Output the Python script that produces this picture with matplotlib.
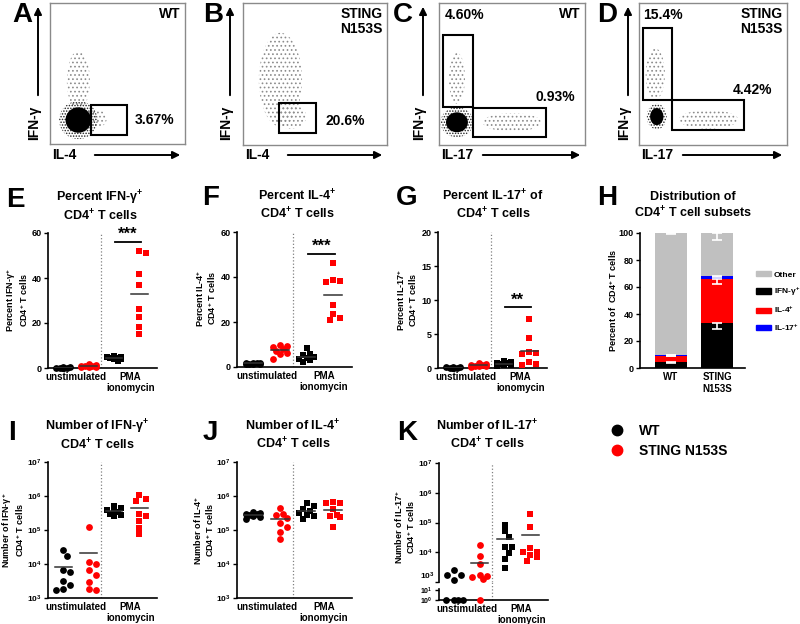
import numpy as np
import matplotlib
matplotlib.use('Agg')
import matplotlib.pyplot as plt
import matplotlib.transforms as mtransforms
from matplotlib.patches import Ellipse, Rectangle, FancyArrowPatch, Patch
from matplotlib.lines import Line2D

plt.rcParams['font.family'] = ['Liberation Sans', 'DejaVu Sans']
plt.rcParams['font.weight'] = 'bold'
plt.rcParams['mathtext.fontset'] = 'custom'
plt.rcParams['mathtext.rm'] = 'Liberation Sans:bold'
plt.rcParams['mathtext.bf'] = 'Liberation Sans:bold'
plt.rcParams['mathtext.it'] = 'Liberation Sans:bold:italic'
plt.rcParams['hatch.linewidth'] = 0.7

# ---- flow plots (axes fraction): gates, percentages, populations (cx, cy, w, h)
a_gates = [(0.30, 0.064, 0.57, 0.277)]
a_pcts = [('3.67%', 0.63, 0.17)]
a_dense = [(0.21, 0.17, 0.19, 0.18)]
a_sparse = [(0.21, 0.45, 0.17, 0.42), (0.34, 0.18, 0.16, 0.13)]

b_gates = [(0.25, 0.085, 0.51, 0.296)]
b_pcts = [('20.6%', 0.57, 0.17)]
b_dense = []
b_sparse = [(0.26, 0.46, 0.30, 0.66), (0.33, 0.20, 0.22, 0.17)]

c_gates = [(0.027, 0.268, 0.233, 0.775), (0.233, 0.056, 0.733, 0.26)]
c_pcts = [('4.60%', 0.04, 0.915), ('0.93%', 0.66, 0.34)]
c_dense = [(0.123, 0.16, 0.15, 0.14)]
c_sparse = [(0.123, 0.47, 0.11, 0.36), (0.50, 0.16, 0.40, 0.13)]

d_gates = [(0.027, 0.317, 0.223, 0.824), (0.223, 0.106, 0.71, 0.317)]
d_pcts = [('15.4%', 0.03, 0.915), ('4.42%', 0.635, 0.39)]
d_dense = [(0.12, 0.20, 0.09, 0.12)]
d_sparse = [(0.11, 0.50, 0.13, 0.36), (0.47, 0.18, 0.40, 0.13)]

# ---- percent panels: [WT unstim, STING unstim, WT PMA, STING PMA]
ifng_pct = [[0.10, 0.15, 0.20, 0.20, 0.25, 0.30, 0.10, 0.20],
            [0.3, 0.5, 0.6, 0.7, 0.8, 1.0, 1.3, 1.8],
            [5.2, 5.0, 4.8, 4.6, 4.4, 4.2, 3.8, 2.9],
            [52.0, 51.2, 41.9, 36.9, 26.1, 22.7, 18.4, 15.3]]
il4_pct = [[2.0, 1.8, 1.7, 1.6, 1.5, 1.4, 1.3, 1.2],
           [9.7, 9.3, 8.8, 8.2, 7.0, 6.3, 5.8, 3.6],
           [8.3, 6.0, 5.2, 4.6, 4.2, 3.6, 3.0, 2.4],
           [46.4, 38.8, 38.3, 38.0, 27.7, 23.5, 21.8, 20.8]]
il17_pct = [[0.05, 0.08, 0.10, 0.06, 0.04, 0.07, 0.09, 0.05],
            [0.2, 0.25, 0.3, 0.35, 0.4, 0.5, 0.6, 0.8],
            [1.0, 0.9, 0.8, 0.7, 0.6, 0.5, 0.4, 0.3],
            [7.2, 4.4, 2.4, 2.2, 2.0, 0.9, 0.6, 0.5]]
sig_levels = {'E': ('***', 56), 'F': ('***', 50.4), 'G': ('**', 8.9)}

# ---- cell numbers
ifng_num = [[25100, 17400, 5750, 6760, 3090, 2450, 1740, 1860],
            [125900, 10000, 11750, 6760, 4790, 2880, 1740, 1780],
            [501000, 437000, 380000, 355000, 331000, 302000, 275000, 251000],
            [1096000, 724000, 794000, 251000, 288000, 182000, 117000, 76000]]
il4_num = [[331000, 316000, 302000, 288000, 275000, 263000, 240000, 209000],
           [447000, 302000, 275000, 224000, 166000, 126000, 89000, 56000],
           [603000, 501000, 417000, 355000, 316000, 282000, 251000, 209000],
           [661000, 631000, 603000, 417000, 282000, 251000, 240000, 120000]]
il17_num = [[2450, 1660, 1740, 1200, 0, 0, 0, 0],
            [17400, 7240, 3980, 1660, 1550, 1480, 1290, 0],
            [85100, 51300, 33100, 14500, 14800, 9330, 5890, 2950],
            [186200, 72400, 13490, 10470, 10000, 8320, 7080, 5130]]

# ---- distribution (stacked)
h_groups = ['WT', 'STING\nN153S']
h_ifng = [4.4, 33.1]
h_il4 = [4.6, 32.6]
h_il17 = [0.6, 2.4]
h_other = [90.4, 31.9]
h_ifng_err = [0.5, 4.5]
h_il4_err = [0.3, 3.5]
h_il17_err = [0.2, 0.8]
h_other_err = [1.0, 5.2]

cat_labels = ['unstimulated', 'PMA\nionomycin']
COLORS = ['black', '#ff0000', 'black', '#ff0000']
MARKERS = ['o', 'o', 's', 's']

W, H = 800, 624
fig = plt.figure(figsize=(8, 6.24), dpi=100)


def box(l, t, r, b):
    return [l / W, 1 - b / H, (r - l) / W, (b - t) / H]


def ftext(x, y, s, **kw):
    fig.text(x / W, 1 - y / H, s, **kw)


def arrow(x0, y0, x1, y1):
    fig.add_artist(FancyArrowPatch((x0 / W, 1 - y0 / H), (x1 / W, 1 - y1 / H),
                                   transform=fig.transFigure, arrowstyle='-|>',
                                   mutation_scale=11, lw=1.4, color='black'))


# ---------------- flow panels
flow = [('A', (50, 3, 185, 144), a_gates, a_pcts, a_dense, a_sparse, 'WT', 'IL-4', 12, 38),
        ('B', (243, 3, 387, 145), b_gates, b_pcts, b_dense, b_sparse, 'STING\nN153S', 'IL-4', 203, 230),
        ('C', (439, 3, 585, 145), c_gates, c_pcts, c_dense, c_sparse, 'WT', 'IL-17', 393, 423),
        ('D', (639, 3, 787, 145), d_gates, d_pcts, d_dense, d_sparse, 'STING\nN153S', 'IL-17', 597, 628)]

for letter, (l, t, r, b), gates, pcts, dense, sparse, geno, xlab, lx, axx in flow:
    ax = fig.add_axes(box(l, t, r, b))
    ax.set_xlim(0, 1)
    ax.set_ylim(0, 1)
    ax.set_xticks([])
    ax.set_yticks([])
    for sp in ax.spines.values():
        sp.set_color('#8a8a8a')
        sp.set_linewidth(1.0)
    for cx, cy, w, h in sparse:
        ax.add_patch(Ellipse((cx, cy), w, h, facecolor='none', edgecolor='#8c8c8c',
                             hatch='....', lw=0))
    for cx, cy, w, h in dense:
        ax.add_patch(Ellipse((cx, cy), w * 1.5, h * 1.5, facecolor='none', edgecolor='#202020',
                             hatch='......', lw=0))
        ax.add_patch(Ellipse((cx, cy), w, h, facecolor='black', edgecolor='none'))
    for x0, y0, x1, y1 in gates:
        ax.add_patch(Rectangle((x0, y0), x1 - x0, y1 - y0, fill=False, ec='black', lw=1.5))
    for s, x, y in pcts:
        ax.text(x, y, s, ha='left', va='center', fontsize=10)
    ax.text(0.97, 0.97, geno, ha='right', va='top', fontsize=10, linespacing=1.1)
    ftext(lx, 15, letter, fontsize=20, ha='left', va='center')
    arrow(axx, 98, axx, 4)
    ftext(axx - 4, 106, 'IFN-γ', rotation=90, ha='center', va='top', fontsize=10)
    ftext(l + 2, 155, xlab, ha='left', va='center', fontsize=10)
    arrow(l + (42 if xlab == 'IL-4' else 41), 155, r - 2, 155)


# ---------------- helpers for dot panels
def style(ax, ylim):
    ax.spines['top'].set_visible(False)
    ax.spines['right'].set_visible(False)
    ax.spines['left'].set_linewidth(1.2)
    ax.spines['bottom'].set_linewidth(1.2)
    ax.tick_params(axis='y', direction='out', length=3, width=1, labelsize=6.5, pad=1.5)
    ax.minorticks_off()


def swarm(ax, x0, vals, d=6.0):
    # Prism-like column scatter: small sideways shifts, overlaps allowed when crowded
    vals = np.asarray(vals, float)
    pts = ax.transData.transform(np.column_stack([np.full(len(vals), x0), vals]))
    inv = ax.transData.inverted()
    xs = np.zeros(len(vals))
    placed = []
    for i in np.argsort(-vals, kind='stable'):
        px, py = pts[i]
        best, best_gap = px, -1.0
        for k in [0, 1, -1, 2, -2]:
            cx = px + k * d * 0.6
            gap = min([np.hypot(cx - qx, py - qy) for qx, qy in placed] or [99.0])
            if gap >= d * 1.05:
                best = cx
                break
            if gap > best_gap + 0.5:
                best, best_gap = cx, gap
        placed.append((best, py))
        xs[i] = inv.transform((best, py))[0]
    return xs


def cats(ax):
    ax.set_xlim(0.4, 4.7)
    ax.set_xticks([1.5, 3.65], cat_labels)
    ax.tick_params(axis='x', length=0, pad=3, labelsize=7)
    for lab in ax.get_xticklabels():
        lab.set_linespacing(1.1)


def dots(ax, cols, lower=None):
    for i, vals in enumerate(cols):
        vals = np.asarray(vals, float)
        pos = vals > 0
        if pos.any():
            xs = swarm(ax, i + 1, vals[pos])
            ax.scatter(xs, vals[pos], s=24, marker=MARKERS[i], c=COLORS[i], linewidths=0,
                       zorder=3, clip_on=False)
        if lower is not None and (~pos).any():
            zeros = np.ones((~pos).sum())
            xs = swarm(lower, i + 1, zeros, d=7.0)
            lower.scatter(xs, zeros, s=24, marker=MARKERS[i], c=COLORS[i], linewidths=0,
                          zorder=3, clip_on=False)
        m = vals.mean()
        ax.plot([i + 1 - 0.33, i + 1 + 0.33], [m, m], color='#333333', lw=1.1, zorder=4)


def pct_panel(rect, cols, top, step, key):
    ax = fig.add_axes(box(*rect))
    cats(ax)
    ax.set_ylim(0, top)
    ax.set_yticks(np.arange(0, top + 1, step))
    style(ax, (0, top))
    ax.axvline(2.5, color='#808080', ls=':', lw=0.9)
    dots(ax, cols)
    s, y = sig_levels[key]
    ax.plot([3.05, 4.05], [y, y], color='black', lw=1.3)
    ax.text(3.55, y, s, ha='center', va='bottom', fontsize=12)
    return ax


log_labels = ['$10^{%d}$' % k for k in range(3, 8)]


def num_panel(rect, cols):
    ax = fig.add_axes(box(*rect))
    cats(ax)
    ax.set_yscale('log')
    ax.set_ylim(1e3, 1e7)
    ax.set_yticks([10.0 ** k for k in range(3, 8)], log_labels)
    style(ax, (1e3, 1e7))
    ax.tick_params(axis='y', labelsize=6)
    ax.axvline(2.5, color='#808080', ls=':', lw=0.9)
    dots(ax, cols)
    return ax


# ---------------- percent panels E F G
pct_panel((48, 233, 157, 368), ifng_pct, 60, 20, 'E')
pct_panel((237, 232, 352, 367), il4_pct, 60, 20, 'F')
pct_panel((438, 232, 547, 368), il17_pct, 20, 5, 'G')

# ---------------- H stacked bars
axh = fig.add_axes(box(640, 233, 745, 368))
xh = np.arange(len(h_groups))
bottom = np.zeros(len(h_groups))
layers = [(h_ifng, h_ifng_err, 'black'), (h_il4, h_il4_err, '#ff0000'),
          (h_il17, h_il17_err, '#0000ff'), (h_other, h_other_err, '#c0c0c0')]
for vals, errs, color in layers:
    vals = np.asarray(vals)
    axh.bar(xh, vals, width=0.69, bottom=bottom, color=color, edgecolor='none', zorder=2)
    topv = bottom + vals
    axh.errorbar(xh, topv, yerr=[errs, np.zeros(len(errs))], fmt='none', ecolor='white',
                 elinewidth=1.2, capsize=3.5, capthick=1.2, zorder=3)
    bottom = topv
axh.set_xlim(-0.67, 1.6)
axh.set_ylim(0, 100)
axh.set_yticks(np.arange(0, 101, 20))
axh.set_xticks(xh, h_groups)
axh.tick_params(axis='x', length=0, pad=3, labelsize=7)
style(axh, (0, 100))
leg_handles = [Patch(color='#c0c0c0'), Patch(color='black'), Patch(color='#ff0000'), Patch(color='#0000ff')]
leg_labels = ['Other', 'IFN-γ$^{+}$', 'IL-4$^{+}$', 'IL-17$^{+}$']
axh.legend(leg_handles, leg_labels, loc='upper left', bbox_to_anchor=(756 / W, 1 - 271 / H),
           bbox_transform=fig.transFigure, frameon=False, fontsize=6, handlelength=1.8,
           handleheight=0.6, labelspacing=0.85, borderaxespad=0, borderpad=0, handletextpad=0.3)

# ---------------- I J K
num_panel((48, 462, 157, 598), ifng_num)
num_panel((237, 462, 352, 598), il4_num)

axk = fig.add_axes(box(439, 463, 548, 582))
axk.set_xlim(0.4, 4.7)
axk.set_yscale('log')
axk.set_ylim(1e3, 1e7)
axk.set_yticks([10.0 ** k for k in range(3, 8)], [''] + log_labels[1:])
axk.set_xticks([])
style(axk, (1e3, 1e7))
axk.tick_params(axis='y', labelsize=6)
axk.spines['bottom'].set_visible(False)
axk.axvline(2.5, color='#808080', ls=':', lw=0.9)
# bottom label of the upper segment sits just above its tick, clear of the broken part
k_trans = mtransforms.blended_transform_factory(axk.transAxes, axk.transData)
axk.text(-0.045, 1e3, log_labels[0], transform=k_trans, ha='right', va='bottom', fontsize=6)

axk0 = fig.add_axes(box(439, 589, 548, 600))
cats(axk0)
axk0.set_yscale('log')
axk0.set_ylim(1, 10 ** 1.1)
axk0.set_yticks([1, 10], ['$10^{0}$', '$10^{1}$'])
style(axk0, (1, 10 ** 1.1))
axk0.tick_params(axis='y', labelsize=5)
axk0.axvline(2.5, ymin=0, ymax=1.7, color='#808080', ls=':', lw=0.9, clip_on=False)
dots(axk, il17_num, lower=axk0)

# ---------------- titles, letters, y labels
titles = [(100, 206, 'Percent IFN-γ$^{+}$\nCD4$^{+}$ T cells'),
          (297, 205, 'Percent IL-4$^{+}$\nCD4$^{+}$ T cells'),
          (493, 205, 'Percent IL-17$^{+}$ of\nCD4$^{+}$ T cells'),
          (693, 206, 'Distribution of\nCD4$^{+}$ T cell subsets'),
          (97, 435, 'Number of IFN-γ$^{+}$\nCD4$^{+}$ T cells'),
          (293, 435, 'Number of IL-4$^{+}$\nCD4$^{+}$ T cells'),
          (487, 435, 'Number of IL-17$^{+}$\nCD4$^{+}$ T cells')]
for x, y, s in titles:
    ftext(x, y, s, ha='center', va='center', fontsize=9, linespacing=1.15)

letters = [(6, 200, 'E'), (202, 198, 'F'), (396, 198, 'G'), (597, 198, 'H'),
           (8, 433, 'I'), (203, 433, 'J'), (397, 433, 'K')]
for x, y, s in letters:
    ftext(x, y, s, ha='left', va='center', fontsize=20)

ylabels = [(17, 300, 'Percent IFN-γ$^{+}$\nCD4$^{+}$ T cells'),
           (206, 298, 'Percent IL-4$^{+}$\nCD4$^{+}$ T cells'),
           (407, 300, 'Percent IL-17$^{+}$\nCD4$^{+}$ T cells'),
           (613, 300, 'Percent of  CD4$^{+}$ T cells'),
           (13.5, 530, 'Number of IFN-γ$^{+}$\nCD4$^{+}$ T cells'),
           (204, 530, 'Number of IL-4$^{+}$\nCD4$^{+}$ T cells'),
           (405, 527, 'Number of IL-17$^{+}$\nCD4$^{+}$ T cells')]
for x, y, s in ylabels:
    ftext(x, y, s, rotation=90, ha='center', va='center', fontsize=6.5, linespacing=1.0,
          multialignment='center')

# ---------------- genotype legend
gen_handles = [Line2D([], [], marker='o', ls='none', color='black', markersize=7.5),
               Line2D([], [], marker='o', ls='none', color='#ff0000', markersize=7.5)]
fig.legend(gen_handles, ['WT', 'STING N153S'], loc='upper left',
           bbox_to_anchor=(603 / W, 1 - 424 / H), frameon=False, fontsize=10,
           handletextpad=0.6, labelspacing=0.45, borderpad=0, borderaxespad=0)

fig.savefig('out.png', dpi=100)
